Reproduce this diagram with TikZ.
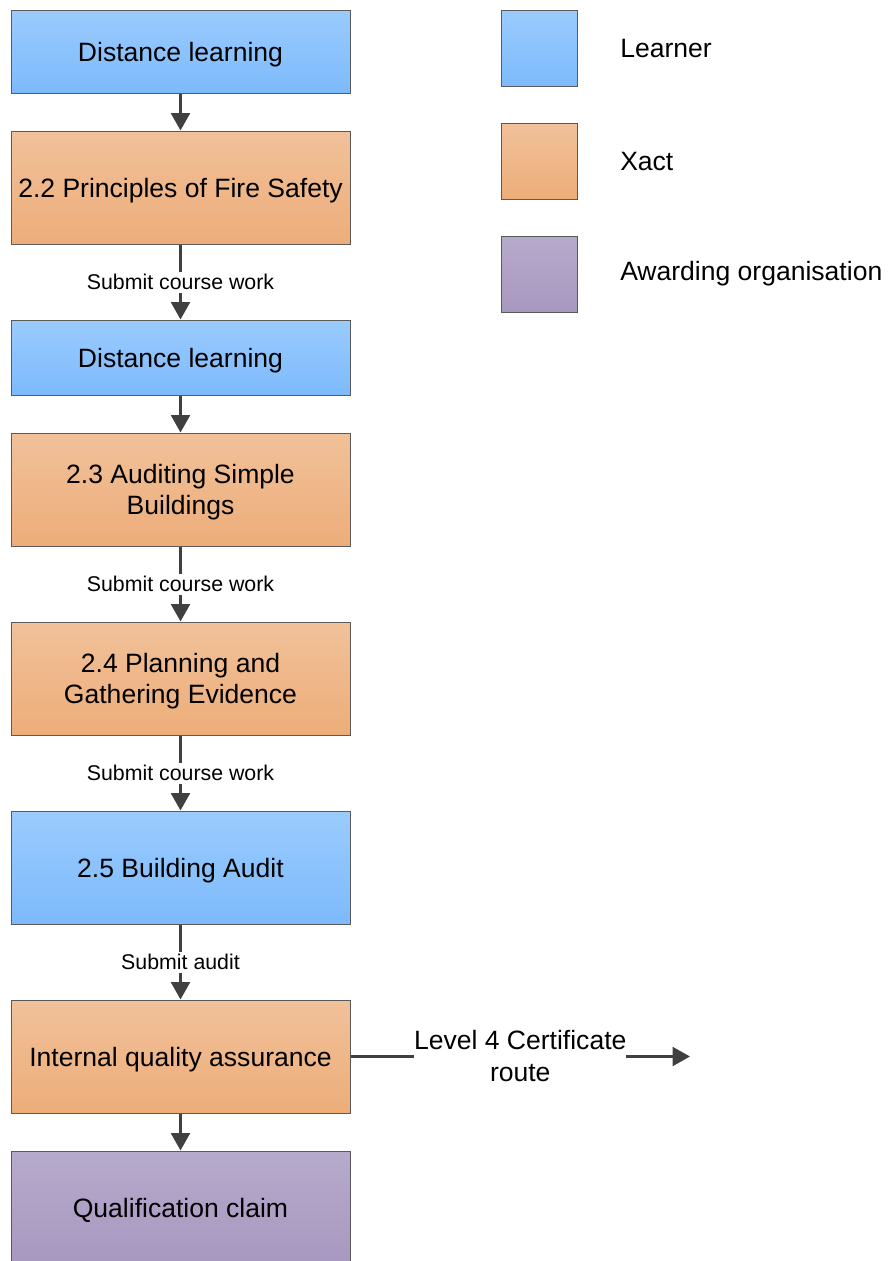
\documentclass[tikz,border=0pt]{standalone}
\usepackage{fontspec}
\setmainfont{Liberation Sans}
\usetikzlibrary{arrows.meta}
\definecolor{learnertop}{HTML}{9ACBFD}
\definecolor{learnerbot}{HTML}{7DBAFC}
\definecolor{xacttop}{HTML}{F1C19A}
\definecolor{xactbot}{HTML}{EDAD79}
\definecolor{awardtop}{HTML}{B6AACB}
\definecolor{awardbot}{HTML}{A898C0}
\definecolor{boxline}{HTML}{5A5A5A}
\definecolor{arrowgray}{HTML}{404040}
\begin{document}
\begin{tikzpicture}[x=0.75pt,y=-0.75pt,
  box/.style={draw=boxline,line width=0.75pt,minimum width=254.25pt,align=center,inner sep=0pt,
    text depth=0pt,font=\fontsize{19.9}{23.5}\selectfont},
  learner/.style={box,top color=learnertop,bottom color=learnerbot},
  xact/.style={box,top color=xacttop,bottom color=xactbot},
  awarding/.style={box,top color=awardtop,bottom color=awardbot},
  tall/.style={minimum height=84.75pt},
  flow/.style={draw=arrowgray,line width=2.25pt,-{Triangle[width=14pt,length=13pt]}},
  lbl/.style={fill=white,inner sep=2pt,font=\fontsize{16}{19}\selectfont}]
  \useasboundingbox (0,0) rectangle (889,1261);
  \node[learner,minimum height=62.25pt] (dl1) at (180.5,51.5) {Distance learning};
  \node[xact,tall] (fire) at (180.5,187.5) {2.2 Principles of Fire Safety};
  \node[learner,minimum height=56.25pt] (dl2) at (180.5,357.5) {Distance learning};
  \node[xact,tall] (simple) at (180.5,489.5) {2.3 Auditing Simple\\Buildings};
  \node[xact,tall] (plan) at (180.5,678.5) {2.4 Planning and\\Gathering Evidence};
  \node[learner,tall] (build) at (180.5,867.5) {2.5 Building Audit};
  \node[xact,tall] (iqa) at (180.5,1056.5) {Internal quality assurance};
  \node[awarding,tall] (claim) at (180.5,1207.5) {Qualification claim};
  \coordinate (routeend) at (690,1056.5);
  \draw[flow] (dl1) -- (fire);
  \draw[flow] (fire) -- node[lbl] {Submit course work} (dl2);
  \draw[flow] (dl2) -- (simple);
  \draw[flow] (simple) -- node[lbl] {Submit course work} (plan);
  \draw[flow] (plan) -- node[lbl] {Submit course work} (build);
  \draw[flow] (build) -- node[lbl] {Submit audit} (iqa);
  \draw[flow] (iqa) -- (claim);
  \draw[flow] (iqa) -- node[fill=white,inner sep=0pt,align=center,font=\fontsize{19.9}{24}\selectfont]
    {Level 4 Certificate\\route} (routeend);
  \foreach \name/\kind/\y in {Learner/learner/48,Xact/xact/161,Awarding organisation/awarding/274} {%
    \node[\kind,minimum width=57pt,minimum height=57pt] (key\kind) at (539,\y) {};
    \node[anchor=west,inner sep=0pt,font=\fontsize{19.9}{23.5}\selectfont] (txt\kind) at (620,\y) {\name};
  }
\end{tikzpicture}
\end{document}
